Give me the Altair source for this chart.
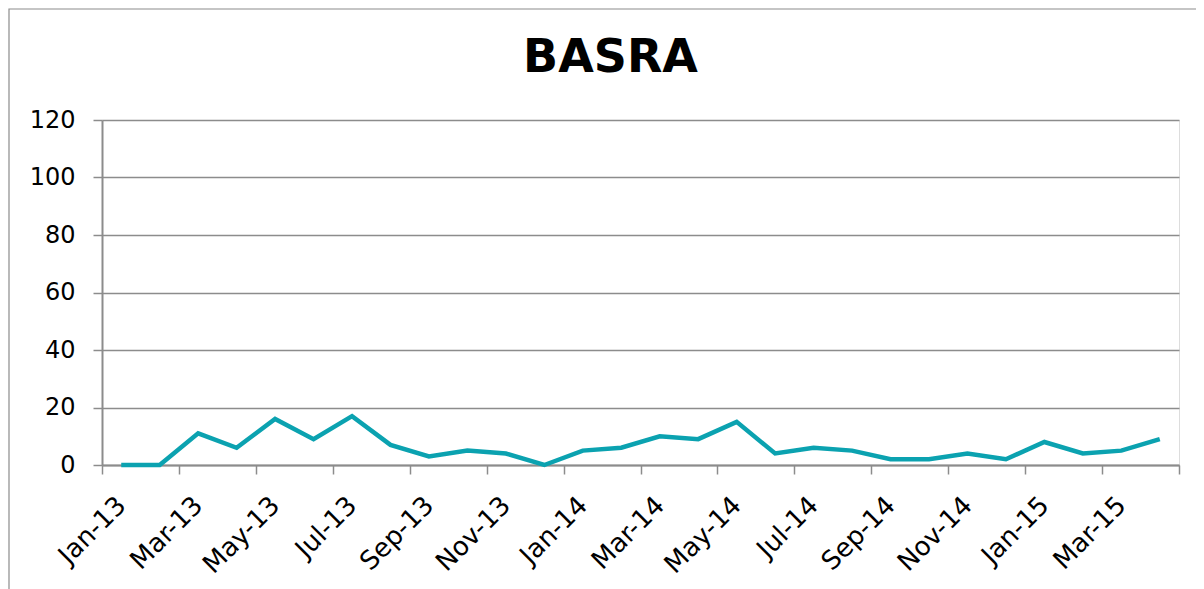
import json
import altair as alt
import pandas as pd

months = [
    "Jan-13", "Feb-13", "Mar-13", "Apr-13", "May-13", "Jun-13", "Jul-13", "Aug-13",
    "Sep-13", "Oct-13", "Nov-13", "Dec-13", "Jan-14", "Feb-14", "Mar-14", "Apr-14",
    "May-14", "Jun-14", "Jul-14", "Aug-14", "Sep-14", "Oct-14", "Nov-14", "Dec-14",
    "Jan-15", "Feb-15", "Mar-15", "Apr-15",
]
values = [0, 0, 11, 6, 16, 9, 17, 7, 3, 5, 4, 0, 5, 6, 10, 9, 15, 4, 6, 5, 2, 2, 4, 2, 8, 4, 5, 9]
y_ticks = [0, 20, 40, 60, 80, 100, 120]

df = pd.DataFrame({"idx": list(range(len(months))), "month": months, "value": values})

n = len(months)
FONT = "DejaVu Sans"
GRAY = "#8c8c8c"
LINE = "#0ba2b0"
W, H = 1077, 345

x_scale = alt.Scale(domain=[-0.5, n - 0.5], nice=False, zero=False)
y_scale = alt.Scale(domain=[0, 120], nice=False)

bounds = [i - 0.5 for i in range(0, n + 1, 2)]
label_vals = list(range(0, n, 2))
label_expr = json.dumps(months) + "[datum.value]"

y_axis = alt.Axis(
    values=y_ticks, title=None, grid=True, gridColor=GRAY, gridWidth=1.5,
    domainColor=GRAY, domainWidth=2, tickColor=GRAY, tickWidth=1.5, tickSize=9,
    labelFont=FONT, labelFontSize=24, labelColor="black", labelPadding=18,
)

line = alt.Chart(df).mark_line(color=LINE, strokeWidth=4.5, strokeJoin="miter").encode(
    x=alt.X("idx:Q", scale=x_scale, axis=alt.Axis(
        orient="bottom", values=bounds, labels=False, grid=False, title=None, tickSize=9,
        tickColor=GRAY, tickWidth=1.5, domainColor=GRAY, domainWidth=2)),
    y=alt.Y("value:Q", scale=y_scale, axis=y_axis),
)

labels = alt.Chart(df).mark_line(opacity=0).encode(
    x=alt.X("idx:Q", scale=x_scale, axis=alt.Axis(
        orient="bottom", values=label_vals, labelExpr=label_expr, ticks=False, domain=False,
        grid=False, title=None, labelAngle=-45, labelAlign="right", labelBaseline="middle",
        labelPadding=36, labelFont=FONT, labelFontSize=26, labelColor="black",
        labelOverlap=False, labelFlush=False)),
    y=alt.Y("value:Q", scale=y_scale, axis=None),
)

frame = alt.Chart(pd.DataFrame({"a": [0]})).mark_rect(
    fill="white", fillOpacity=0, stroke=GRAY, strokeWidth=1.2
).encode(
    x=alt.value(-93), x2=alt.value(W + 300), y=alt.value(-111), y2=alt.value(H + 300)
)

chart = alt.layer(frame, line, labels).resolve_axis(x="independent", y="independent").properties(
    width=W, height=H,
    title=alt.TitleParams(text="BASRA", font=FONT, fontSize=46, fontWeight="bold",
                          color="black", anchor="middle", dx=-30, offset=0, dy=110,
                          baseline="alphabetic"),
    autosize=alt.AutoSizeParams(type="none"),
    padding={"left": 94, "top": 112, "right": 17, "bottom": 124},
).configure_view(stroke=None).configure(background="white")

chart.save("out.html", embed_options={"renderer": "svg", "actions": False})
